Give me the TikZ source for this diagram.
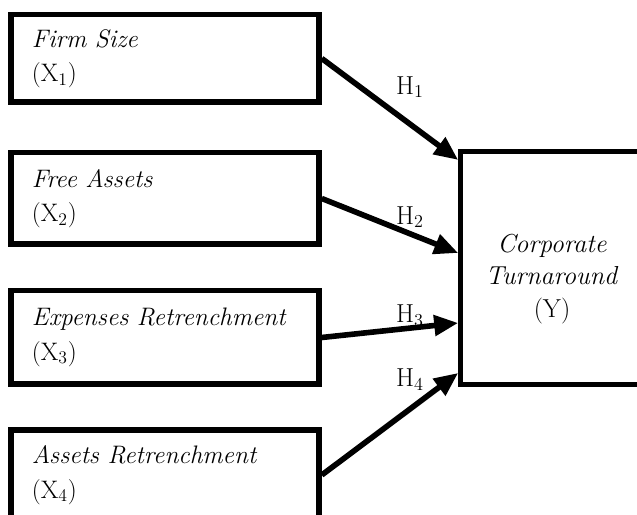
\documentclass[tikz,border=0pt]{standalone}
\usetikzlibrary{arrows.meta,calc}
\begin{document}
\begin{tikzpicture}[
    varbox/.style={draw=black, line width=1.4mm, minimum width=7.7cm, text width=6.65cm,
      align=left, inner sep=0pt, font=\fontsize{18}{24.5}\selectfont},
    depbox/.style={draw=black, line width=1.2mm, minimum width=4.55cm, minimum height=5.83cm},
    hlabel/.style={inner sep=0pt, font=\fontsize{18.5}{20}\selectfont},
    harrow/.style={line width=1.4mm, -{Triangle[length=6mm,width=5mm]}}
  ]
    \useasboundingbox (0,0) rectangle (15.925,12.875);
    % variabel independen: X1..X4 di kiri
    \node[varbox, minimum height=2.19cm] (x1) at (4.125,11.4125) {\textit{Firm Size}\\(X\textsubscript{1})};
    \node[varbox, minimum height=2.29cm] (x2) at (4.125,7.9125)  {\textit{Free Assets}\\(X\textsubscript{2})};
    \node[varbox, minimum height=2.34cm] (x3) at (4.125,4.4375)  {\textit{Expenses Retrenchment}\\(X\textsubscript{3})};
    \node[varbox, minimum height=2.24cm] (x4) at (4.125,1.0)     {\textit{Assets Retrenchment}\\(X\textsubscript{4})};
    % variabel dependen: Y di kanan
    \node[depbox] (y) at (13.79,6.175) {};
    \node[align=center, font=\fontsize{18.5}{23}\selectfont] (ytext) at (13.8,5.9)
      {\textit{Corporate}\\\textit{Turnaround}\\(Y)};
    % hipotesis
    \node[hlabel] (h1) at (10.25,10.7)  {H\textsubscript{1}};
    \node[hlabel] (h2) at (10.25,7.45)  {H\textsubscript{2}};
    \node[hlabel] (h3) at (10.25,4.975) {H\textsubscript{3}};
    \node[hlabel] (h4) at (10.25,3.375) {H\textsubscript{4}};
    \draw[harrow] (x1.east) -- ($(y.north west)!0.046!(y.south west)$);
    \draw[harrow] (x2.east) -- ($(y.north west)!0.437!(y.south west)$);
    \draw[harrow] (x3.east) -- ($(y.north west)!0.731!(y.south west)$);
    \draw[harrow] (x4.east) -- ($(y.north west)!0.941!(y.south west)$);
  \end{tikzpicture}
\end{document}
